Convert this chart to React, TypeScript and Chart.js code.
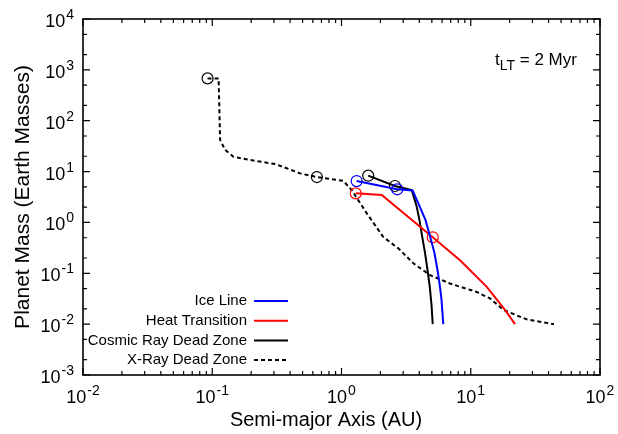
import React, { useEffect, useRef } from "react";
import { Chart, registerables } from "chart.js";

Chart.register(...registerables);

// ---------- data ----------
const seriesLabels = ["Ice Line", "Heat Transition", "Cosmic Ray Dead Zone", "X-Ray Dead Zone"];

const iceX = [1.31, 2.70, 3.55, 3.93, 4.47, 4.88, 5.24, 5.53, 5.78, 5.94, 6.13];
const iceY = [6.5, 4.48, 4.25, 2.37, 1.11, 0.493, 0.25, 0.116, 0.054, 0.030, 0.010];
const iceMarkers = [0, 1];

const heatX = [1.29, 2.05, 5.08, 8.26, 13.3, 18.4, 22.0];
const heatY = [3.73, 3.46, 0.51, 0.18, 0.054, 0.019, 0.010];
const heatMarkers = [0, 2];

const cosmicX = [1.61, 2.59, 3.49, 3.82, 4.01, 4.23, 4.43, 4.63, 4.82, 4.97, 5.08];
const cosmicY = [8.3, 5.2, 4.33, 2.04, 1.11, 0.493, 0.25, 0.116, 0.054, 0.024, 0.010];
const cosmicMarkers = [0, 1];

const xrayX = [0.092, 0.112, 0.115, 0.126, 0.146, 0.196, 0.306, 0.377, 0.478, 0.645, 1.03, 1.2, 1.57, 2.1, 2.75, 3.6, 4.84, 6.9, 11.1, 14.1, 17.9, 27.1, 44.0];
const xrayY = [680, 680, 42, 26.5, 19.6, 16.9, 14.1, 11.6, 9.2, 7.8, 6.6, 4.33, 1.51, 0.52, 0.31, 0.157, 0.092, 0.063, 0.043, 0.032, 0.019, 0.0124, 0.0100];
const xrayMarkers = [0, 9];

const xTickExponents = [-2, -1, 0, 1, 2];
const yTickExponents = [-3, -2, -1, 0, 1, 2, 3, 4];
const xMinorFactors = [2, 3, 4, 5, 6, 7, 8, 9];
const yMinorFactors = [2, 5];

const xTitle = "Semi-major Axis (AU)";
const yTitle = "Planet Mass (Earth Masses)";
const noteMain = "t";
const noteSub = "LT";
const noteRest = " = 2 Myr";

// ---------- helpers ----------
const FONT = '"Liberation Sans", Arial, Helvetica, sans-serif';

function pts(xs: number[], ys: number[]) {
  return xs.map((x, i) => ({ x, y: ys[i] }));
}

function drawPower(ctx: CanvasRenderingContext2D, exp: number, x: number, y: number, align: "center" | "right") {
  const base = "10";
  const e = String(exp);
  ctx.font = `18px ${FONT}`;
  const wb = ctx.measureText(base).width;
  ctx.font = `14px ${FONT}`;
  const we = ctx.measureText(e).width;
  const gap = 1;
  const total = wb + gap + we;
  const left = align === "center" ? x - total / 2 : x - total;
  ctx.textAlign = "left";
  ctx.textBaseline = "alphabetic";
  ctx.font = `18px ${FONT}`;
  ctx.fillText(base, left, y);
  ctx.font = `14px ${FONT}`;
  ctx.fillText(e, left + wb + gap, y - 8);
}

const decorPlugin = {
  id: "decor",
  afterDatasetsDraw(chart: any) {
    const { ctx, chartArea: a, scales } = chart;
    const xs = scales.x;
    const ys = scales.y;
    ctx.save();
    ctx.fillStyle = "#000";
    ctx.strokeStyle = "#000";

    // tick marks
    ctx.lineWidth = 1.2;
    const major = 7;
    const minor = 4;
    const xTick = (v: number, len: number) => {
      const px = xs.getPixelForValue(v);
      ctx.beginPath();
      ctx.moveTo(px, a.bottom);
      ctx.lineTo(px, a.bottom - len);
      ctx.moveTo(px, a.top);
      ctx.lineTo(px, a.top + len);
      ctx.stroke();
    };
    const yTick = (v: number, len: number) => {
      const py = ys.getPixelForValue(v);
      ctx.beginPath();
      ctx.moveTo(a.left, py);
      ctx.lineTo(a.left + len, py);
      ctx.moveTo(a.right, py);
      ctx.lineTo(a.right - len, py);
      ctx.stroke();
    };
    xTickExponents.forEach((e, i) => {
      xTick(Math.pow(10, e), major);
      if (i < xTickExponents.length - 1) xMinorFactors.forEach((f) => xTick(f * Math.pow(10, e), minor));
    });
    yTickExponents.forEach((e, i) => {
      yTick(Math.pow(10, e), major);
      if (i < yTickExponents.length - 1) yMinorFactors.forEach((f) => yTick(f * Math.pow(10, e), minor));
    });

    // frame
    ctx.lineWidth = 1.6;
    ctx.strokeRect(a.left, a.top, a.right - a.left, a.bottom - a.top);

    // tick labels
    xTickExponents.forEach((e) => {
      drawPower(ctx, e, xs.getPixelForValue(Math.pow(10, e)), a.bottom + 28, "center");
    });
    yTickExponents.forEach((e) => {
      drawPower(ctx, e, a.left - 9, ys.getPixelForValue(Math.pow(10, e)) + 8, "right");
    });

    // axis titles
    ctx.font = `20px ${FONT}`;
    ctx.textAlign = "center";
    ctx.textBaseline = "alphabetic";
    ctx.fillText(xTitle, 326, 426);
    ctx.save();
    ctx.translate(29, 197);
    ctx.rotate(-Math.PI / 2);
    ctx.font = `21px ${FONT}`;
    ctx.fillText(yTitle, 0, 0);
    ctx.restore();

    // annotation
    ctx.textAlign = "left";
    ctx.font = `17px ${FONT}`;
    let nx = 495;
    ctx.fillText(noteMain, nx, 65);
    nx += ctx.measureText(noteMain).width;
    ctx.font = `14px ${FONT}`;
    ctx.fillText(noteSub, nx, 69.5);
    nx += ctx.measureText(noteSub).width;
    ctx.font = `17px ${FONT}`;
    ctx.fillText(noteRest, nx, 65);

    // legend
    const ds = chart.data.datasets;
    ctx.font = `15px ${FONT}`;
    ctx.textAlign = "right";
    ctx.textBaseline = "middle";
    ds.forEach((d: any, i: number) => {
      const y = 301 + i * 19.7;
      ctx.fillStyle = "#000";
      ctx.fillText(d.label, 247, y);
      ctx.save();
      ctx.strokeStyle = d.borderColor;
      ctx.lineWidth = 2;
      ctx.setLineDash(d.borderDash || []);
      ctx.beginPath();
      ctx.moveTo(254, y);
      ctx.lineTo(288, y);
      ctx.stroke();
      ctx.restore();
    });

    ctx.restore();
  },
};

function makeDataset(label: string, xs: number[], ys: number[], color: string, markers: number[], dash?: number[]) {
  return {
    label,
    data: pts(xs, ys),
    showLine: true,
    borderColor: color,
    backgroundColor: color,
    borderWidth: 2,
    borderDash: dash || [],
    tension: 0,
    pointStyle: "circle",
    pointRadius: (c: any) => (markers.includes(c.dataIndex) ? 5.5 : 0),
    pointHoverRadius: 0,
    pointBorderColor: color,
    pointBackgroundColor: "rgba(0,0,0,0)",
    pointBorderWidth: 1.2,
    fill: false,
  };
}

export default function App() {
  const ref = useRef<HTMLCanvasElement | null>(null);
  useEffect(() => {
    if (!ref.current) return;
    const chart = new Chart(ref.current, {
      type: "scatter",
      data: {
        datasets: [
          makeDataset(seriesLabels[0], iceX, iceY, "#0000ff", iceMarkers),
          makeDataset(seriesLabels[1], heatX, heatY, "#ff0000", heatMarkers),
          makeDataset(seriesLabels[2], cosmicX, cosmicY, "#000000", cosmicMarkers),
          makeDataset(seriesLabels[3], xrayX, xrayY, "#000000", xrayMarkers, [4, 3]),
        ] as any,
      },
      options: {
        animation: false,
        responsive: false,
        events: [],
        layout: { padding: { left: 83, top: 19, right: 18, bottom: 59 } },
        plugins: { legend: { display: false }, tooltip: { enabled: false }, title: { display: false } },
        scales: {
          x: { type: "logarithmic", min: 0.01, max: 100, display: false },
          y: { type: "logarithmic", min: 0.001, max: 10000, display: false },
        },
      } as any,
      plugins: [decorPlugin],
    });
    return () => chart.destroy();
  }, []);
  return (
    <div style={{ position: "absolute", left: 0, top: 0, width: 618, height: 434, background: "#fff" }}>
      <canvas ref={ref} width={618} height={434} style={{ display: "block" }} />
    </div>
  );
}
